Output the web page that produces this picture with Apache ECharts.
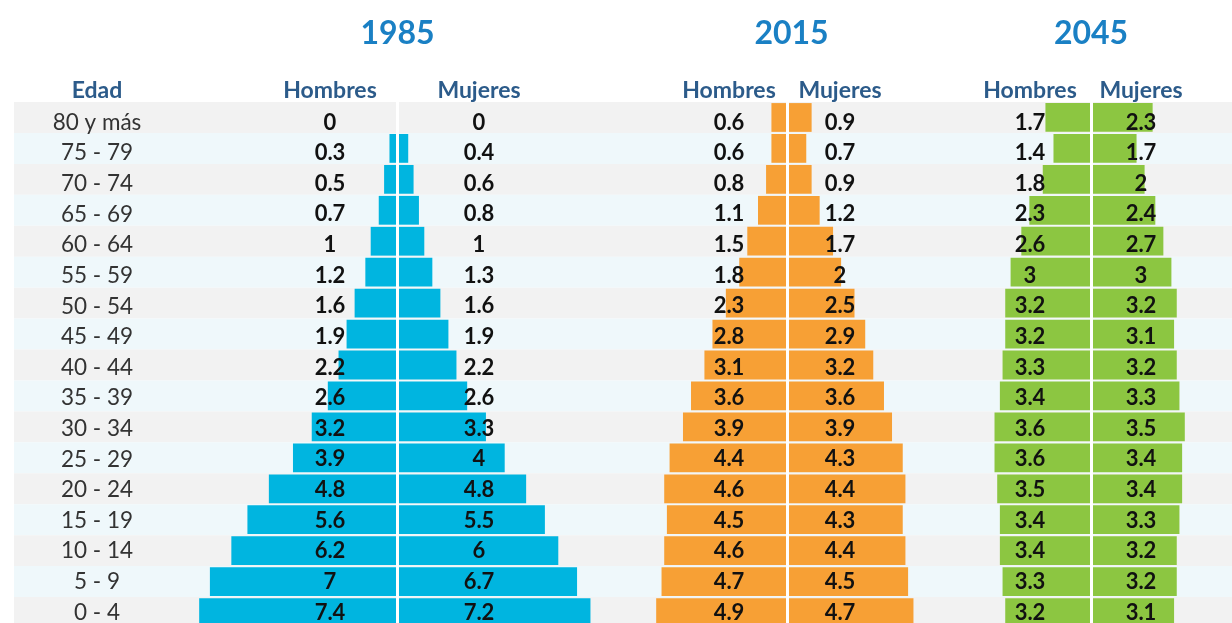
<!DOCTYPE html>
<html>
<head>
<meta charset="utf-8">
<script src="https://cdn.jsdelivr.net/npm/echarts@6/dist/echarts.min.js"></script>
<style>
html,body{margin:0;padding:0;background:#fff;}
#chart{width:1232px;height:623px;}
</style>
</head>
<body>
<div id="chart"></div>
<script>
// ---- data ----
const ages = ['80 y más','75 - 79','70 - 74','65 - 69','60 - 64','55 - 59','50 - 54','45 - 49','40 - 44','35 - 39','30 - 34','25 - 29','20 - 24','15 - 19','10 - 14','5 - 9','0 - 4'];
const years = ['1985','2015','2045'];
const men1985   = [0,0.3,0.5,0.7,1,1.2,1.6,1.9,2.2,2.6,3.2,3.9,4.8,5.6,6.2,7,7.4];
const women1985 = [0,0.4,0.6,0.8,1,1.3,1.6,1.9,2.2,2.6,3.3,4,4.8,5.5,6,6.7,7.2];
const men2015   = [0.6,0.6,0.8,1.1,1.5,1.8,2.3,2.8,3.1,3.6,3.9,4.4,4.6,4.5,4.6,4.7,4.9];
const women2015 = [0.9,0.7,0.9,1.2,1.7,2,2.5,2.9,3.2,3.6,3.9,4.3,4.4,4.3,4.4,4.5,4.7];
const men2045   = [1.7,1.4,1.8,2.3,2.6,3,3.2,3.2,3.3,3.4,3.6,3.6,3.5,3.4,3.4,3.3,3.2];
const women2045 = [2.3,1.7,2,2.4,2.7,3,3.2,3.1,3.2,3.3,3.5,3.4,3.4,3.3,3.2,3.2,3.1];
const headerEdad = 'Edad';
const headerMen = 'Hombres';
const headerWomen = 'Mujeres';

// ---- layout ----
const FONT = 'Lato, "Open Sans", sans-serif';
const TOP = 102, HEIGHT = 526;
const LTOP = 107.2, LHEIGHT = 520.6;
const SCALE = 26.8, AXMAX = 8, HALF = SCALE * AXMAX;
const pyramids = [
  {year: years[0], men: men1985, women: women1985, c: 397.5, colM: 330, colW: 479, color: '#00b5e0'},
  {year: years[1], men: men2015, women: women2015, c: 787.5, colM: 729, colW: 840, color: '#f7a035'},
  {year: years[2], men: men2045, women: women2045, c: 1091, colM: 1030, colW: 1141, color: '#8cc641'}
];

const grid = [{left: 14, right: 0, top: TOP, height: HEIGHT, outerBoundsMode: 'none', containLabel: false}];
const xAxis = [{gridIndex: 0, type: 'value', min: 0, max: 1, show: false}];
const yAxis = [{
  gridIndex: 0, type: 'category', data: ages, inverse: true, position: 'left',
  axisLine: {show: false}, axisTick: {show: false}, axisLabel: {show: false},
  splitArea: {show: true, areaStyle: {color: ['#f2f2f2', '#eff8fb']}}
}];
const series = [];
const graphic = [];

// a text column drawn as the labels of a category axis in a thin grid
function labelColumn(x, formatter, style) {
  const gi = grid.length;
  grid.push({left: x, width: 1, top: LTOP, height: LHEIGHT, outerBoundsMode: 'none', containLabel: false});
  xAxis.push({gridIndex: gi, type: 'value', min: 0, max: 1, show: false});
  yAxis.push({gridIndex: gi, type: 'category', data: ages, inverse: true, position: 'left', z: 6,
    axisLine: {show: false}, axisTick: {show: false}, splitLine: {show: false},
    axisLabel: Object.assign({inside: true, margin: 0, align: 'center', interval: 0, formatter: formatter,
      fontFamily: FONT}, style)});
}

labelColumn(97, (v) => v, {fontSize: 22.5, color: '#333'});
graphic.push({type: 'text', x: 97, y: 91, style: {text: headerEdad, align: 'center', verticalAlign: 'middle',
  font: 'bold 23px ' + FONT, fill: '#2c5b8a'}});

const valStyle = {fontSize: 22, fontWeight: 'bold', color: '#111'};

pyramids.forEach((p, k) => {
  const gm = grid.length;
  grid.push({left: p.c - HALF, width: HALF, top: TOP, height: HEIGHT, outerBoundsMode: 'none', containLabel: false});
  grid.push({left: p.c, width: HALF, top: TOP, height: HEIGHT, outerBoundsMode: 'none', containLabel: false});
  xAxis.push({gridIndex: gm, type: 'value', min: 0, max: AXMAX, inverse: true, show: false});
  xAxis.push({gridIndex: gm + 1, type: 'value', min: 0, max: AXMAX, show: false});
  yAxis.push({gridIndex: gm, type: 'category', data: ages, inverse: true, position: 'right', z: 5,
    axisLine: {show: true, onZero: false, lineStyle: {color: '#fff', width: 3}}, axisTick: {show: false},
    axisLabel: {show: false}});
  yAxis.push({gridIndex: gm + 1, type: 'category', data: ages, inverse: true, position: 'left', z: 5,
    axisLine: {show: true, onZero: false, lineStyle: {color: '#fff', width: 3}}, axisTick: {show: false},
    axisLabel: {show: false}});
  series.push({type: 'bar', xAxisIndex: gm, yAxisIndex: gm, data: p.men, barCategoryGap: '7%',
    itemStyle: {color: p.color}, silent: true, animation: false});
  series.push({type: 'bar', xAxisIndex: gm + 1, yAxisIndex: gm + 1, data: p.women, barCategoryGap: '7%',
    itemStyle: {color: p.color}, silent: true, animation: false});
  labelColumn(p.colM, (v, i) => String(p.men[i]), valStyle);
  labelColumn(p.colW, (v, i) => String(p.women[i]), valStyle);
  graphic.push({type: 'text', x: p.c + (k === 1 ? 4 : 0), y: 34, style: {text: p.year, align: 'center', verticalAlign: 'middle',
    font: 'bold 32px ' + FONT, fill: '#1a80c4'}});
  graphic.push({type: 'text', x: p.colM, y: 91, style: {text: headerMen, align: 'center', verticalAlign: 'middle',
    font: 'bold 23px ' + FONT, fill: '#2c5b8a'}});
  graphic.push({type: 'text', x: p.colW, y: 91, style: {text: headerWomen, align: 'center', verticalAlign: 'middle',
    font: 'bold 23px ' + FONT, fill: '#2c5b8a'}});
});

const chart = echarts.init(document.getElementById('chart'), null, {renderer: 'canvas'});
chart.setOption({
  animation: false,
  backgroundColor: '#fff',
  grid, xAxis, yAxis, series, graphic
});
</script>
</body>
</html>
